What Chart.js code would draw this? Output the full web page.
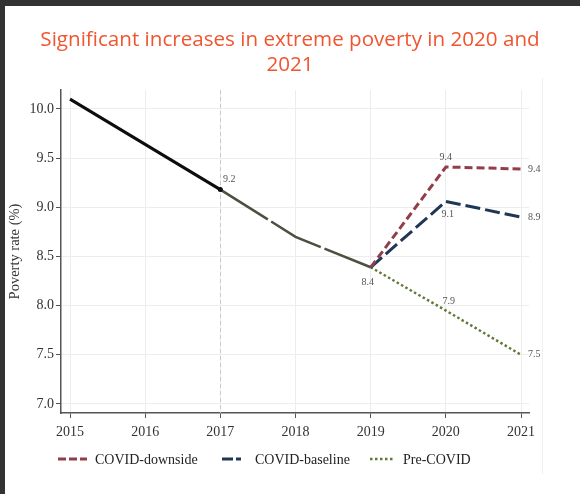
<!DOCTYPE html>
<html><head><meta charset="utf-8">
<script src="https://cdn.jsdelivr.net/npm/chart.js@4.4.1/dist/chart.umd.min.js"></script>
<style>
html,body{margin:0;padding:0;background:#fff;width:580px;height:494px;overflow:hidden;}
#wrap{position:absolute;left:0;top:0;width:580px;height:494px;}
#stripTop{position:absolute;left:0;top:0;width:580px;height:6px;background:#333;}
#stripLeft{position:absolute;left:0;top:0;width:5px;height:494px;background:#333;}
#edge{position:absolute;left:542px;top:78px;width:1px;height:396px;background:#efefef;}
#title{position:absolute;left:5px;top:26px;width:570px;text-align:center;font-family:'Open Sans',sans-serif;font-size:20.6px;line-height:25px;color:#f05530;}
</style></head><body>
<div id="edge"></div>
<div id="wrap"><canvas id="c" width="580" height="494"></canvas></div>
<div id="stripTop"></div><div id="stripLeft"></div>
<div id="title">Significant increases in extreme poverty in 2020 and<br>2021</div>
<script>
// ---- data ----
const years = [2015, 2016, 2017, 2018, 2019, 2020, 2021];
const yTicks = [7.0, 7.5, 8.0, 8.5, 9.0, 9.5, 10.0];
const historyYears = [2015, 2016, 2017];
const historyValues = [10.10, 9.64, 9.18];
const transitionYears = [2017, 2018, 2019];
const transitionValues = [9.18, 8.70, 8.39];
const scenarioYears = [2019, 2020, 2021];
const downsideValues = [8.39, 9.41, 9.39];
const baselineValues = [8.39, 9.06, 8.90];
const preCovidValues = [8.39, 7.95, 7.50];
const seriesLabels = ['COVID-downside', 'COVID-baseline', 'Pre-COVID'];
const labelYears  = [2017, 2019, 2020, 2021, 2020, 2021, 2020, 2021];
const labelValues = [9.18, 8.39, 9.41, 9.39, 9.06, 8.90, 7.95, 7.50];
const labelTexts  = ['9.2', '8.4', '9.4', '9.4', '9.1', '8.9', '7.9', '7.5'];

const pts = (xs, ys) => xs.map((x, i) => ({x: x, y: ys[i]}));
const SERIF = "'Liberation Serif', 'DejaVu Serif', serif";

// label offsets (style): dx, dy, align
const labelStyle = [
  [9, -10, 'center'], [-3, 15, 'center'], [0, -10, 'center'], [7, 0, 'left'],
  [2, 13, 'center'], [7, 0, 'left'], [3, -9, 'center'], [7, 0, 'left']
];

const refLinePlugin = {
  id: 'refLine',
  beforeDatasetsDraw(chart) {
    const {ctx, chartArea, scales} = chart;
    const x = Math.round(scales.x.getPixelForValue(2017)) + 0.5;
    ctx.save();
    ctx.strokeStyle = '#c8c8c8';
    ctx.lineWidth = 1;
    ctx.setLineDash([4, 3]);
    ctx.beginPath();
    ctx.moveTo(x, chartArea.top);
    ctx.lineTo(x, chartArea.bottom);
    ctx.stroke();
    ctx.restore();
  }
};

const labelPlugin = {
  id: 'pointLabels',
  afterDatasetsDraw(chart) {
    const {ctx, scales} = chart;
    ctx.save();
    ctx.font = "10px " + SERIF;
    ctx.fillStyle = '#555';
    ctx.textBaseline = 'middle';
    labelTexts.forEach((t, i) => {
      const px = scales.x.getPixelForValue(labelYears[i]);
      const py = scales.y.getPixelForValue(labelValues[i]);
      const s = labelStyle[i];
      ctx.textAlign = s[2];
      ctx.fillText(t, px + s[0], py + s[1]);
    });
    ctx.restore();
  }
};

const legendPlugin = {
  id: 'customLegend',
  afterDraw(chart) {
    const ctx = chart.ctx;
    const layout = [
      {ds: 2, x0: 58, x1: 87, tx: 95, dash: [8, 3]},
      {ds: 3, x0: 222, x1: 241, tx: 255, dash: [11, 3]},
      {ds: 4, x0: 370, x1: 393, tx: 403, dash: [2.5, 2.5]}
    ];
    const y = 459;
    ctx.save();
    layout.forEach(it => {
      const d = chart.data.datasets[it.ds];
      ctx.strokeStyle = d.borderColor;
      ctx.lineWidth = d.borderWidth;
      ctx.setLineDash(it.dash);
      ctx.beginPath();
      ctx.moveTo(it.x0, y);
      ctx.lineTo(it.x1, y);
      ctx.stroke();
      ctx.setLineDash([]);
      ctx.fillStyle = '#222';
      ctx.font = "14px " + SERIF;
      ctx.textAlign = 'left';
      ctx.textBaseline = 'middle';
      ctx.fillText(d.label, it.tx, y + 1);
    });
    ctx.restore();
  }
};

new Chart(document.getElementById('c'), {
  type: 'line',
  data: {
    datasets: [
      {label: 'history', data: pts(historyYears, historyValues), borderColor: '#0d0d0d', backgroundColor: '#0d0d0d',
       borderWidth: 3, pointRadius: [0, 0, 2.5], pointBorderWidth: 0, tension: 0},
      {label: 'transition', data: pts(transitionYears, transitionValues), borderColor: '#4d5040',
       borderWidth: 2.5, borderDash: [56, 4], pointRadius: 0, tension: 0},
      {label: seriesLabels[0], data: pts(scenarioYears, downsideValues), borderColor: '#923e4a',
       borderWidth: 3, borderDash: [8, 4], pointRadius: 0, tension: 0},
      {label: seriesLabels[1], data: pts(scenarioYears, baselineValues), borderColor: '#1f3654',
       borderWidth: 3, borderDash: [15, 5], pointRadius: 0, tension: 0},
      {label: seriesLabels[2], data: pts(scenarioYears, preCovidValues), borderColor: '#5f7a36',
       borderWidth: 2.5, borderDash: [2.5, 2.5], pointRadius: 0, tension: 0}
    ]
  },
  options: {
    responsive: false,
    animation: false,
    devicePixelRatio: 1,
    layout: {padding: {top: 90, right: 51, bottom: 0, left: 0}},
    plugins: {legend: {display: false}, tooltip: {enabled: false}, title: {display: false}},
    scales: {
      x: {
        type: 'linear', min: 2014.88, max: 2021.106,
        afterBuildTicks: s => { s.ticks = years.map(v => ({value: v})); },
        afterFit: s => { s.height = 81; },
        grid: {color: '#ededed', tickColor: '#555', tickLength: 5, lineWidth: 1},
        border: {color: '#555', width: 1.5},
        ticks: {font: {family: SERIF, size: 14}, color: '#333', padding: 6, maxRotation: 0, autoSkip: false,
                callback: v => String(v)}
      },
      y: {
        min: 6.908, max: 10.193,
        afterBuildTicks: s => { s.ticks = yTicks.map(v => ({value: v})); },
        afterFit: s => { s.width = 61; },
        grid: {color: '#ededed', tickColor: '#555', tickLength: 5, lineWidth: 1},
        border: {color: '#555', width: 1.5},
        ticks: {font: {family: SERIF, size: 14}, color: '#333', padding: 2, callback: v => Number(v).toFixed(1)},
        title: {display: true, text: 'Poverty rate (%)', font: {family: SERIF, size: 14.5}, color: '#333', padding: {top: 6}}
      }
    }
  },
  plugins: [refLinePlugin, labelPlugin, legendPlugin]
});
</script>
</body></html>
